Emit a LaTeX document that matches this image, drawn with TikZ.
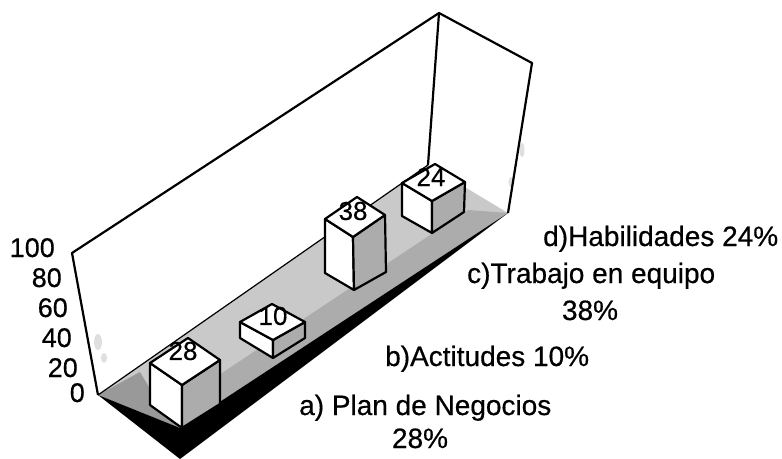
\documentclass[tikz,border=0pt]{standalone}
\usepackage{fontspec}
\setmainfont{Liberation Sans}[FakeBold=0.4]
\newfontfamily\legendfont{Liberation Sans}[FakeBold=0.5]
\begin{document}
\begin{tikzpicture}[x=1pt,y=-1pt,
  edge/.style={line width=2.2pt, line join=round},
  thinedge/.style={line width=1.2pt},
  lbl/.style={font=\legendfont\fontsize{28}{36}\selectfont, inner sep=0pt},
  axl/.style={font=\legendfont\fontsize{27}{30}\selectfont, inner sep=0pt, anchor=base east},
  barlbl/.style={font=\fontsize{26}{28}\selectfont, inner sep=0pt},
  topface/.style={edge, fill=white},
  frontface/.style={edge, fill=white},
  sideface/.style={edge, fill=gray!65},
  speck/.style={fill=gray!25}]
\useasboundingbox (0,0) rectangle (782,458);

% wall and floor corners
\coordinate (wTL) at (72,253);
\coordinate (wBL) at (98,395);
\coordinate (wTC) at (439,13);
\coordinate (wBC) at (428,165);
\coordinate (wTR) at (532,63);
\coordinate (wBR) at (508,213);
\coordinate (fFL) at (180,428);
\coordinate (fTip) at (180,459);

% floor
\fill[gray!42] (wBL) -- (wBC) -- (wBR) -- (fFL) -- cycle;
\fill[gray!65] (fFL) -- (wBR) -- (468,210) -- (166,410) -- cycle;
\fill[gray!80] (wBL) -- (140,372) -- (166,416) -- (fFL) -- cycle;
\fill[black] (wBL) -- (fFL) -- (wBR) -- (fTip) -- cycle;
\draw[thinedge] (wBL) -- (wBC);

% specks on walls
\fill[speck] (98,342) ellipse (4pt and 8pt);
\fill[speck] (104,358) ellipse (3pt and 5pt);
\fill[speck] (522,150) ellipse (2.5pt and 7pt);
\fill[speck] (511,182) ellipse (2.5pt and 5pt);

% walls
\draw[edge] (wBL) -- (wTL) -- (wTC) -- (wTR) -- (wBR);
\draw[edge] (wTC) -- (wBC);

% bar 24
\coordinate (dL) at (402,183); \coordinate (dF) at (432,201);
\coordinate (dR) at (465,182); \coordinate (dB) at (435,164);
\coordinate (dLb) at (402,216); \coordinate (dFb) at (432,233); \coordinate (dRb) at (464,212);
\filldraw[frontface] (dL) -- (dF) -- (dFb) -- (dLb) -- cycle;
\filldraw[sideface] (dF) -- (dR) -- (dRb) -- (dFb) -- cycle;
\filldraw[topface] (dL) -- (dB) -- (dR) -- (dF) -- cycle;
\node[barlbl] (v24) at (431,177) {24};

% bar 38
\coordinate (cL) at (325,219); \coordinate (cF) at (353,237);
\coordinate (cR) at (385,215); \coordinate (cB) at (357,197);
\coordinate (cLb) at (325,273); \coordinate (cFb) at (354,290); \coordinate (cRb) at (386,272);
\filldraw[frontface] (cL) -- (cF) -- (cFb) -- (cLb) -- cycle;
\filldraw[sideface] (cF) -- (cR) -- (cRb) -- (cFb) -- cycle;
\filldraw[topface] (cL) -- (cB) -- (cR) -- (cF) -- cycle;
\node[barlbl] (v38) at (353,211) {38};

% bar 10
\coordinate (bL) at (240,322); \coordinate (bF) at (273,340);
\coordinate (bR) at (305,322); \coordinate (bB) at (272,304);
\coordinate (bLb) at (240,338); \coordinate (bFb) at (273,358); \coordinate (bRb) at (305,338);
\filldraw[frontface] (bL) -- (bF) -- (bFb) -- (bLb) -- cycle;
\filldraw[sideface] (bF) -- (bR) -- (bRb) -- (bFb) -- cycle;
\filldraw[topface] (bL) -- (bB) -- (bR) -- (bF) -- cycle;
\node[barlbl] (v10) at (273,316) {10};

% bar 28
\coordinate (aL) at (150,363); \coordinate (aF) at (182,385);
\coordinate (aR) at (220,360); \coordinate (aB) at (188,338);
\coordinate (aLb) at (150,405); \coordinate (aFb) at (182,428); \coordinate (aRb) at (220,404);
\filldraw[frontface] (aL) -- (aF) -- (aFb) -- (aLb) -- cycle;
\filldraw[sideface] (aF) -- (aR) -- (aRb) -- (aFb) -- cycle;
\filldraw[topface] (aL) -- (aB) -- (aR) -- (aF) -- cycle;
\node[barlbl] (v28) at (183,351) {28};

% axis labels
\node[axl] (y100) at (55,257) {100};
\node[axl] (y80) at (62,287) {80};
\node[axl] (y60) at (68,317) {60};
\node[axl] (y40) at (72,347) {40};
\node[axl] (y20) at (78,377) {20};
\node[axl] (y0) at (85,402) {0};

% legend texts
\node[lbl, anchor=base west] (ld) at (543,246) {d)Habilidades 24\%};
\node[lbl, anchor=base west] (lc) at (467,283) {c)Trabajo en equipo};
\node[lbl, anchor=base] (lc2) at (590,320) {38\%};
\node[lbl, anchor=base west] (lb) at (385,366) {b)Actitudes 10\%};
\node[lbl, anchor=base west] (la) at (299,415) {a) Plan de Negocios};
\node[lbl, anchor=base] (la2) at (420,448) {28\%};
\end{tikzpicture}
\end{document}
